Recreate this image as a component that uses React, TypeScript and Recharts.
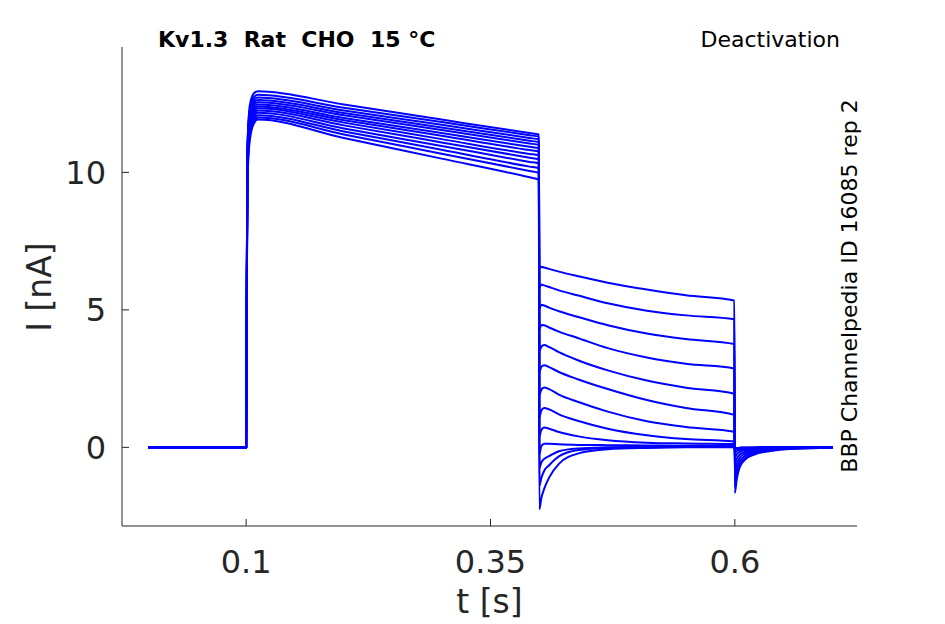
import React from "react";
import { LineChart, Line, XAxis, YAxis } from "recharts";

// Time points (s) per protocol segment
const TIME_BASE = [0, 0.05, 0.0995];
const TIME_ACT = [0.1, 0.1012, 0.102, 0.103, 0.105, 0.108, 0.112, 0.2, 0.3, 0.39, 0.3995];
const TIME_DEACT = [0.4, 0.402, 0.405, 0.41, 0.42, 0.44, 0.47, 0.51, 0.55, 0.5995];
const TIME_TAIL = [0.6, 0.602, 0.605, 0.61, 0.62, 0.635, 0.66, 0.7];

// Current (nA) for each sweep, one value per time point above
const SWEEP_1 = [0, 0, 0, 0, 10.6, 11.6, 12.2, 12.65, 12.88, 12.95, 12.47, 11.92, 11.43, 11.38, 6.5, 6.57, 6.54, 6.49, 6.39, 6.22, 5.99, 5.74, 5.53, 5.34, -1.66, -1.15, -0.72, -0.46, -0.26, -0.14, -0.05, -0.01];
const SWEEP_2 = [0, 0, 0, 0, 10.5, 11.5, 12.05, 12.5, 12.74, 12.82, 12.35, 11.83, 11.35, 11.3, 5.8, 5.92, 5.89, 5.83, 5.71, 5.52, 5.24, 4.97, 4.8, 4.66, -1.43, -0.99, -0.62, -0.4, -0.22, -0.12, -0.04, -0.01];
const SWEEP_3 = [0, 0, 0, 0, 10.4, 11.4, 11.95, 12.4, 12.64, 12.72, 12.25, 11.73, 11.25, 11.2, 5.05, 5.19, 5.16, 5.08, 4.95, 4.74, 4.44, 4.14, 3.94, 3.76, -1.15, -0.8, -0.5, -0.32, -0.18, -0.1, -0.03, -0.01];
const SWEEP_4 = [0, 0, 0, 0, 10.3, 11.3, 11.85, 12.3, 12.55, 12.63, 12.16, 11.63, 11.15, 11.1, 4.3, 4.45, 4.44, 4.36, 4.21, 3.97, 3.61, 3.27, 3.04, 2.87, -0.88, -0.61, -0.38, -0.24, -0.14, -0.07, -0.03, 0];
const SWEEP_5 = [0, 0, 0, 0, 10.2, 11.2, 11.75, 12.2, 12.46, 12.55, 12.08, 11.54, 11.05, 11.0, 3.5, 3.66, 3.72, 3.65, 3.46, 3.16, 2.8, 2.43, 2.17, 1.95, -0.6, -0.42, -0.26, -0.17, -0.09, -0.05, -0.02, 0];
const SWEEP_6 = [0, 0, 0, 0, 10.1, 11.1, 11.65, 12.1, 12.38, 12.47, 11.98, 11.43, 10.93, 10.88, 2.75, 2.93, 2.99, 2.92, 2.74, 2.47, 2.12, 1.72, 1.43, 1.18, -0.37, -0.25, -0.16, -0.1, -0.06, -0.03, -0.01, 0];
const SWEEP_7 = [0, 0, 0, 0, 10.0, 11.0, 11.55, 12.0, 12.3, 12.4, 11.9, 11.33, 10.81, 10.76, 1.9, 2.1, 2.18, 2.12, 1.92, 1.65, 1.3, 0.95, 0.74, 0.57, -0.2, -0.14, -0.09, -0.06, -0.03, -0.02, -0.01, 0];
const SWEEP_8 = [0, 0, 0, 0, 9.9, 10.9, 11.45, 11.92, 12.22, 12.33, 11.81, 11.21, 10.67, 10.62, 1.1, 1.34, 1.43, 1.38, 1.2, 0.96, 0.68, 0.44, 0.3, 0.21, -0.1, -0.07, -0.04, -0.03, -0.02, -0.01, 0, 0];
const SWEEP_9 = [0, 0, 0, 0, 9.8, 10.8, 11.35, 11.83, 12.14, 12.25, 11.71, 11.09, 10.53, 10.47, 0.4, 0.63, 0.72, 0.68, 0.56, 0.4, 0.26, 0.17, 0.14, 0.12, -0.06, -0.04, -0.03, -0.02, -0.01, 0, 0, 0];
const SWEEP_10 = [0, 0, 0, 0, 9.7, 10.7, 11.25, 11.74, 12.05, 12.17, 11.6, 10.96, 10.38, 10.32, -0.25, 0.05, 0.13, 0.13, 0.11, 0.09, 0.08, 0.07, 0.06, 0.05, -0.04, -0.03, -0.02, -0.01, -0.01, 0, 0, 0];
const SWEEP_11 = [0, 0, 0, 0, 9.6, 10.6, 11.15, 11.65, 11.96, 12.08, 11.49, 10.82, 10.21, 10.15, -0.75, -0.55, -0.42, -0.32, -0.14, -0.04, 0, 0.02, 0.02, 0.02, -0.04, -0.03, -0.02, -0.01, -0.01, 0, 0, 0];
const SWEEP_12 = [0, 0, 0, 0, 9.5, 10.5, 11.05, 11.56, 11.88, 12.0, 11.38, 10.68, 10.05, 9.98, -1.4, -1.12, -0.85, -0.65, -0.33, -0.1, -0.02, 0, 0.01, 0.01, -0.04, -0.03, -0.02, -0.01, -0.01, 0, 0, 0];
const SWEEP_13 = [0, 0, 0, 0, 9.3, 10.3, 10.9, 11.45, 11.78, 11.92, 11.25, 10.5, 9.82, 9.74, -2.25, -1.85, -1.5, -1.1, -0.6, -0.22, -0.07, -0.02, 0, 0, -0.04, -0.03, -0.02, -0.01, -0.01, 0, 0, 0];

const X_TICKS = [0.1, 0.35, 0.6];
const Y_TICKS = [0, 5, 10];
const X_DOMAIN = [-0.027, 0.725];
const Y_DOMAIN = [-2.86, 14.56];

const SWEEPS = [SWEEP_1, SWEEP_2, SWEEP_3, SWEEP_4, SWEEP_5, SWEEP_6, SWEEP_7, SWEEP_8, SWEEP_9, SWEEP_10, SWEEP_11, SWEEP_12, SWEEP_13];
const TIME = [...TIME_BASE, ...TIME_ACT, ...TIME_DEACT, ...TIME_TAIL];
const rows = TIME.map((t, i) => {
  const r: Record<string, number> = { t };
  SWEEPS.forEach((s, k) => {
    r["s" + k] = s[i];
  });
  return r;
});

const FONT = "'DejaVu Sans', sans-serif";
const AX = "#262626";

const XTick = (props: any) => {
  const { x, y, payload } = props;
  return (
    <g>
      <line x1={x} x2={x} y1={y} y2={y - 7} stroke={AX} strokeWidth={1} />
      <text x={x} y={y + 47} textAnchor="middle" fontSize={32} fontFamily={FONT} fill={AX}>
        {String(payload.value)}
      </text>
    </g>
  );
};

const YTick = (props: any) => {
  const { x, y, payload } = props;
  return (
    <g>
      <line x1={x} x2={x + 7} y1={y} y2={y} stroke={AX} strokeWidth={1} />
      <text x={x - 16} y={y + 11.5} textAnchor="end" fontSize={32} fontFamily={FONT} fill={AX}>
        {String(payload.value)}
      </text>
    </g>
  );
};

export default function App() {
  return (
    <div style={{ position: "fixed", left: 0, top: 0, width: 945, height: 624, background: "#fff" }}>
      <LineChart width={945} height={624} data={rows} margin={{ top: 47, right: 88, bottom: 0, left: 0 }}>
        <XAxis
          dataKey="t"
          type="number"
          domain={X_DOMAIN}
          ticks={X_TICKS}
          allowDataOverflow
          height={98}
          tickSize={0}
          tickMargin={0}
          tickLine={false}
          axisLine={{ stroke: AX, strokeWidth: 1 }}
          tick={<XTick />}
        />
        <YAxis
          type="number"
          domain={Y_DOMAIN}
          ticks={Y_TICKS}
          allowDataOverflow
          width={122}
          tickSize={0}
          tickMargin={0}
          tickLine={false}
          axisLine={{ stroke: AX, strokeWidth: 1 }}
          tick={<YTick />}
        />
        {SWEEPS.map((_, k) => (
          <Line
            key={k}
            dataKey={"s" + k}
            type="monotone"
            stroke="#0000ff"
            strokeWidth={2}
            dot={false}
            activeDot={false}
            isAnimationActive={false}
          />
        ))}
      </LineChart>
      <svg width={945} height={624} style={{ position: "absolute", left: 0, top: 0, pointerEvents: "none" }}>
        <text x={158} y={47} fontSize={22} fontWeight="bold" fontFamily={FONT} fill="#000" style={{ whiteSpace: "pre" }}>
          {"Kv1.3  Rat  CHO  15 °C"}
        </text>
        <text x={840} y={47} fontSize={22} textAnchor="end" fontFamily={FONT} fill="#000">
          Deactivation
        </text>
        <text transform="translate(857,286) rotate(-90)" fontSize={22} textAnchor="middle" fontFamily={FONT} fill="#000">
          BBP Channelpedia ID 16085 rep 2
        </text>
        <text x={489.5} y={613} fontSize={33} textAnchor="middle" fontFamily={FONT} fill={AX}>
          t [s]
        </text>
        <text transform="translate(51,287) rotate(-90)" fontSize={33} textAnchor="middle" fontFamily={FONT} fill={AX}>
          I [nA]
        </text>
      </svg>
    </div>
  );
}
